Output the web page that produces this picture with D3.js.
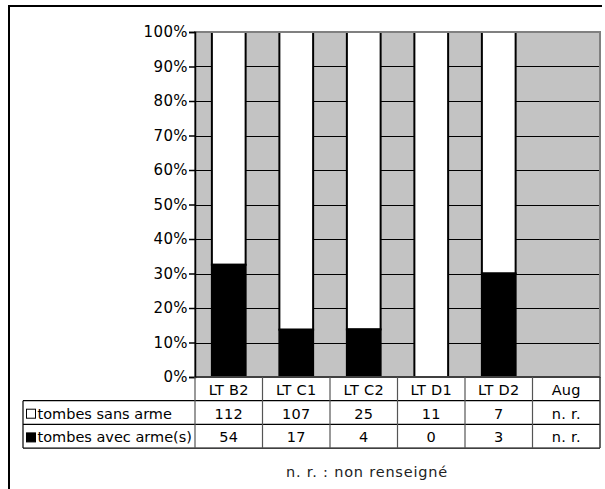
<!DOCTYPE html>
<html><head><meta charset="utf-8">
<script src="https://cdn.jsdelivr.net/npm/d3@7"></script>
<style>html,body{margin:0;padding:0;background:#fff;}svg{display:block;font-family:"DejaVu Sans",Verdana,sans-serif;}</style>
</head><body>
<script>
const categories = ["LT B2","LT C1","LT C2","LT D1","LT D2","Aug"];
const sansArme = [112,107,25,11,7,null];
const avecArme = [54,17,4,0,3,null];
const seriesNames = ["tombes sans arme","tombes avec arme(s)"];
const yTicks = [0,10,20,30,40,50,60,70,80,90,100];
const footnote = "n. r. : non renseigné";

(function(){
const W = 605, H = 489;
const FONT = "DejaVu Sans, Verdana, sans-serif";
const svg = d3.select("body").append("svg").attr("width", W).attr("height", H);

const pLeft = 195, pRight = 600, pTop = 32, pBottom = 377;
const x = d3.scaleBand().domain(categories).range([pLeft, pRight]).paddingInner(0.5).paddingOuter(0.25);
const xc = d3.scaleBand().domain(categories).range([pLeft, pRight]).padding(0);
const y = d3.scaleLinear().domain([0, 100]).range([pBottom, pTop]);

svg.append("path").attr("d", `M9,${H} L9,6 L602,6`).attr("fill","none").attr("stroke","#000").attr("stroke-width",2);

svg.append("rect").attr("x", pLeft).attr("y", pTop).attr("width", pRight-pLeft).attr("height", pBottom-pTop)
  .attr("fill", "#c3c3c3");

svg.append("g").selectAll("line").data(yTicks.filter(t => t>0 && t<100)).join("line")
  .attr("x1", pLeft).attr("x2", pRight).attr("y1", d => Math.round(y(d))+0.5).attr("y2", d => Math.round(y(d))+0.5)
  .attr("stroke", "#000").attr("stroke-width", 1);

const data = categories.map((c,i) => ({c, s: sansArme[i], a: avecArme[i]})).filter(d => d.s !== null);
const g = svg.append("g");
data.forEach(d => {
  const tot = d.s + d.a;
  const pa = d.a / tot * 100;
  g.append("rect").attr("x", x(d.c)).attr("width", x.bandwidth())
    .attr("y", y(100)).attr("height", y(pa) - y(100))
    .attr("fill", "#fff").attr("stroke", "#000").attr("stroke-width", 2);
  g.append("rect").attr("x", x(d.c)).attr("width", x.bandwidth())
    .attr("y", y(pa)).attr("height", y(0) - y(pa))
    .attr("fill", "#000").attr("stroke", "#000").attr("stroke-width", 2);
});

svg.append("rect").attr("x", pLeft).attr("y", pTop).attr("width", pRight-pLeft).attr("height", pBottom-pTop)
  .attr("fill", "none").attr("stroke", "#808080").attr("stroke-width", 2);

const yAxis = d3.axisLeft(y).tickValues(yTicks).tickFormat(d => d + "%").tickSize(6).tickPadding(1);
const ya = svg.append("g").attr("transform", `translate(${pLeft},0)`).call(yAxis);
ya.select(".domain").attr("stroke", "#000").attr("stroke-width", 1.5);
ya.selectAll(".tick line").attr("stroke", "#000").attr("stroke-width", 1.5);
ya.selectAll("text").attr("font-size", 15).attr("font-family", FONT).attr("fill", "#000").attr("letter-spacing", 0.4);

const rowH = 23.7;
const r0 = pBottom, r1 = pBottom + rowH, r2 = pBottom + 2*rowH, r3 = pBottom + 3*rowH;
const tleft = 23;
const tg = svg.append("g").attr("font-family", FONT);
tg.selectAll("text.cat").data(categories).join("text").attr("class","cat")
  .attr("x", d => xc(d) + xc.bandwidth()/2).attr("y", r0 + 18)
  .attr("text-anchor","middle").attr("font-size", 14.5).attr("letter-spacing", 0.3).text(d => d);
const rows = [sansArme, avecArme];
rows.forEach((vals, ri) => {
  tg.selectAll(null).data(vals).join("text")
    .attr("x", (d,i) => xc(categories[i]) + xc.bandwidth()/2)
    .attr("y", r1 + ri*rowH + 18)
    .attr("text-anchor","middle").attr("font-size", 14.5).attr("letter-spacing", 0.3)
    .text(d => d === null ? "n. r." : d);
  tg.append("rect").attr("x", 26.5).attr("y", r1 + ri*rowH + 8.5).attr("width", 9).attr("height", 9)
    .attr("fill", ri === 0 ? "#fff" : "#000").attr("stroke", "#000").attr("stroke-width", 1);
  tg.append("text").attr("x", 37.5).attr("y", r1 + ri*rowH + 18).attr("font-size", 14.5).text(seriesNames[ri]);
});
const hl = [[pLeft, r0, pRight], [tleft, r1, pRight], [tleft, r2, pRight], [tleft, r3, pRight]];
hl.forEach(([x1, yy, x2]) => tg.append("line").attr("x1", x1).attr("x2", x2).attr("y1", yy).attr("y2", yy)
  .attr("stroke", "#000").attr("stroke-width", 1.2));
categories.forEach(c => {
  tg.append("line").attr("x1", xc(c)).attr("x2", xc(c)).attr("y1", r0).attr("y2", r3)
    .attr("stroke", "#555").attr("stroke-width", 1.2);
});
tg.append("line").attr("x1", pRight).attr("x2", pRight).attr("y1", r0).attr("y2", r3).attr("stroke", "#333").attr("stroke-width", 1.5);
tg.append("line").attr("x1", tleft).attr("x2", tleft).attr("y1", r1).attr("y2", r3).attr("stroke", "#000").attr("stroke-width", 1.2);

svg.append("text").attr("x", 286).attr("y", 477).attr("font-family", FONT).attr("font-size", 14.5)
  .attr("letter-spacing", 0.8).attr("fill", "#222").text(footnote);
})();
</script>
</body></html>
